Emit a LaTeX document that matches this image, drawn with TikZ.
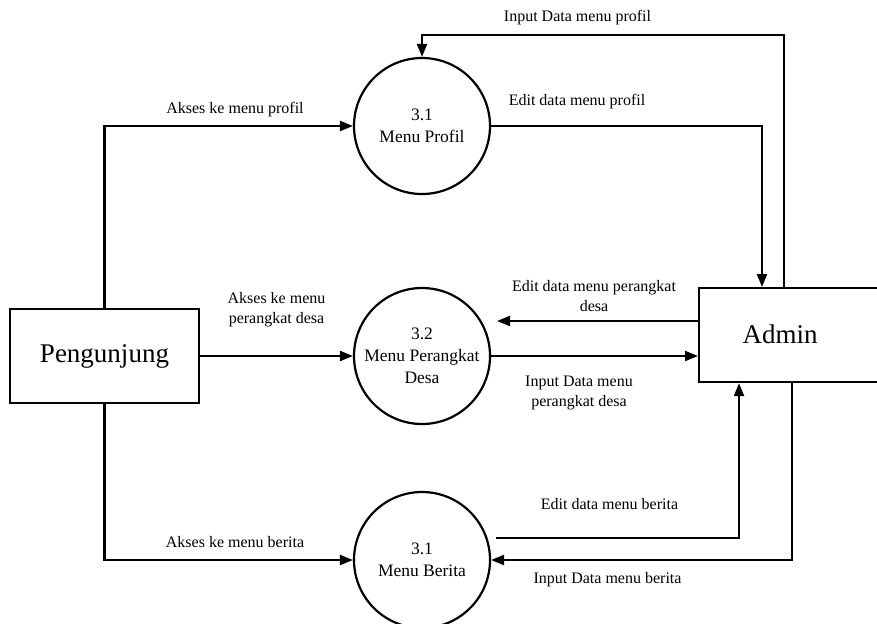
\documentclass[tikz,border=0pt]{standalone}
\usepackage{fontspec}
\setmainfont{Liberation Serif}
\usetikzlibrary{arrows.meta}
\begin{document}
\begin{tikzpicture}[x=1pt,y=-1pt,
  line width=2.2pt,
  flow/.style={-{Triangle[length=13pt,width=10pt]}, line width=2.2pt},
  proc/.style={circle,draw,line width=2.2pt,minimum size=136pt,inner sep=0pt,align=center,font=\fontsize{17.5}{22}\selectfont},
  ent/.style={rectangle,draw,line width=2.2pt,inner sep=0pt},
  big/.style={font=\fontsize{27}{30}\selectfont,inner sep=0pt},
  lbl/.style={font=\fontsize{16}{20}\selectfont,align=center,inner sep=0pt}]
\useasboundingbox (0,0) rectangle (877,623);

% entities
\node[ent,big,minimum width=189pt,minimum height=94pt] (peng) at (104.5,356) {Pengunjung};
\node[ent,minimum width=186pt,minimum height=94pt,anchor=north west] (admin) at (698,287) {};
\node[big] (admintext) at (780,334) {Admin};

% processes
\node[proc] (p1) at (422,126) {3.1\\Menu Profil};
\node[proc] (p2) at (422,356) {3.2\\Menu Perangkat\\Desa};
\node[proc] (p3) at (422,560) {3.1\\Menu Berita};

% free ends
\coordinate (e2) at (497,321);
\coordinate (e3) at (496,538);

% Pengunjung flows
\draw[flow] (peng.north) |- (p1.west);
\draw[flow] (peng.east) -- (p2.west);
\draw[flow] (peng.south) |- (p3.west);

% Admin / profil
\draw[flow] ([xshift=86pt]admin.north west) |- ([yshift=22pt]p1.north) -- (p1.north);
\draw[flow] (p1.east) -| ([xshift=64pt]admin.north west);

% Admin / perangkat
\draw[flow] (admin.west |- e2) -- (e2);
\draw[flow] (p2.east) -- (p2.east -| admin.west);

% Admin / berita
\draw[flow] (e3) -| ([xshift=41pt]admin.south west);
\draw[flow] ([xshift=94pt]admin.south west) |- (p3.east);

% labels
\node[lbl] (l1) at (577.5,18) {Input Data menu profil};
\node[lbl] (l2) at (577,102) {Edit data menu profil};
\node[lbl] (l3) at (235,110) {Akses ke menu profil};
\node[lbl] (l4) at (276.5,310) {Akses ke menu\\perangkat desa};
\node[lbl] (l5) at (594,296) {Edit data menu perangkat\\desa};
\node[lbl] (l6) at (579,393) {Input Data menu\\perangkat desa};
\node[lbl] (l7) at (609.5,504) {Edit data menu berita};
\node[lbl] (l8) at (607.5,580) {Input Data menu berita};
\node[lbl] (l9) at (235,542) {Akses ke menu berita};
\end{tikzpicture}
\end{document}
